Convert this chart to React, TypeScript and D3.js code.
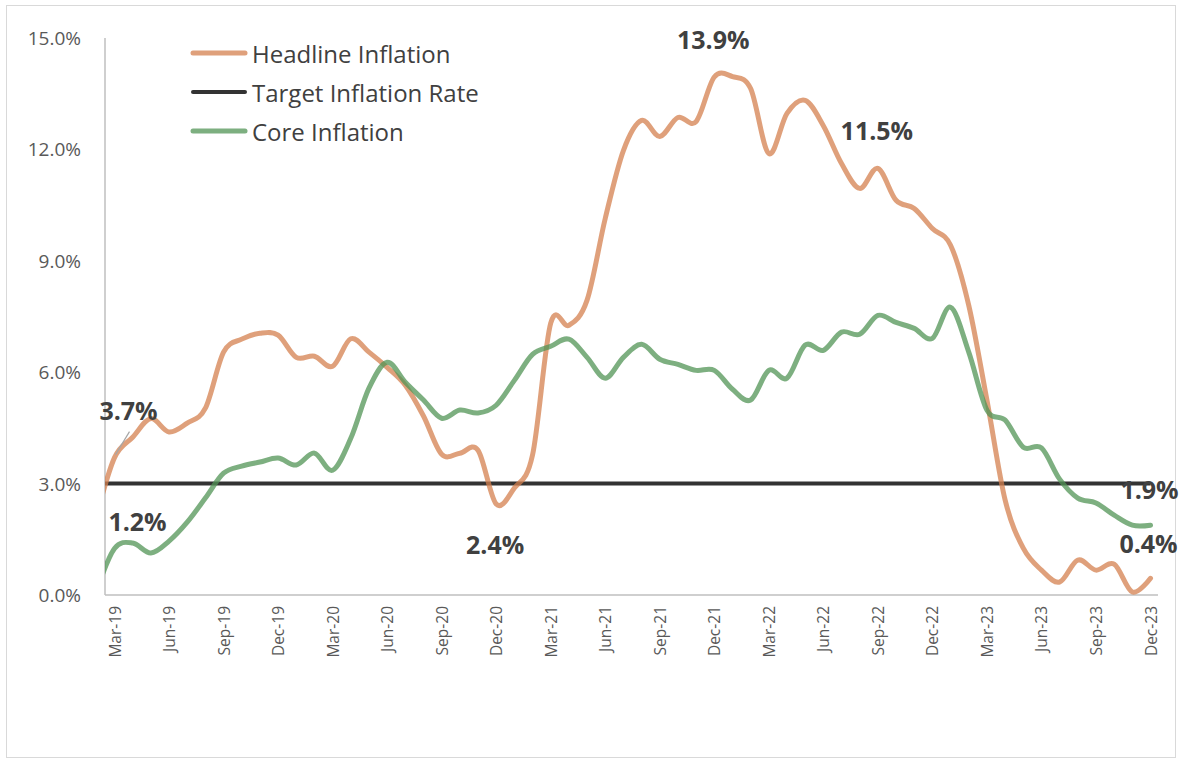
import React from "react";
import * as d3 from "d3";

// Categories: monthly, Feb-19 (clipped at the axis) .. Dec-23
const months: string[] = d3
  .timeMonth.range(new Date(2019, 1, 1), new Date(2024, 0, 1))
  .map(d3.timeFormat("%b-%y"));

// Headline inflation, % y/y
const headline: number[] = [
  2.1, 3.7, 4.25, 4.75, 4.39, 4.63, 5.03, 6.54, 6.89, 7.05, 7.0,
  6.4, 6.43, 6.16, 6.9, 6.54, 6.13, 5.65, 4.82, 3.79, 3.82, 3.9, 2.45,
  2.88, 3.77, 7.32, 7.26, 7.94, 10.14, 11.97, 12.78, 12.35, 12.86, 12.75, 13.95,
  13.96, 13.64, 11.89, 12.97, 13.32, 12.64, 11.62, 10.95, 11.49, 10.63, 10.41, 9.87,
  9.42, 7.8, 5.25, 2.56, 1.26, 0.67, 0.35, 0.94, 0.67, 0.83, 0.08, 0.45,
];

// Core inflation, % y/y
const core: number[] = [
  0.1, 1.25, 1.4, 1.13, 1.45, 1.96, 2.61, 3.28, 3.47, 3.58, 3.69,
  3.5, 3.82, 3.36, 4.22, 5.57, 6.27, 5.73, 5.25, 4.76, 4.98, 4.9, 5.11,
  5.78, 6.48, 6.7, 6.89, 6.4, 5.84, 6.4, 6.75, 6.35, 6.21, 6.05, 6.05,
  5.54, 5.25, 6.05, 5.84, 6.73, 6.59, 7.08, 7.02, 7.53, 7.34, 7.18, 6.91,
  7.75, 6.54, 4.98, 4.71, 3.98, 3.96, 3.12, 2.61, 2.48, 2.15, 1.88, 1.88,
];

// Target inflation rate, %
const targetRate = 3.0;

const xTickLabels: string[] = [
  "Mar-19", "Jun-19", "Sep-19", "Dec-19", "Mar-20", "Jun-20", "Sep-20", "Dec-20",
  "Mar-21", "Jun-21", "Sep-21", "Dec-21", "Mar-22", "Jun-22", "Sep-22", "Dec-22",
  "Mar-23", "Jun-23", "Sep-23", "Dec-23",
];
const yTicks: number[] = [0, 3, 6, 9, 12, 15];

const seriesNames = ["Headline Inflation", "Target Inflation Rate", "Core Inflation"];

const dataLabels = [
  { series: "headline", month: "Mar-19", text: "3.7%" },
  { series: "core", month: "Mar-19", text: "1.2%" },
  { series: "headline", month: "Dec-20", text: "2.4%" },
  { series: "headline", month: "Dec-21", text: "13.9%" },
  { series: "headline", month: "Sep-22", text: "11.5%" },
  { series: "core", month: "Dec-23", text: "1.9%" },
  { series: "headline", month: "Dec-23", text: "0.4%" },
];

const ORANGE = "#D4804F";
const GREEN = "#529456";
const BLACK = "#333333";
const TEXT = "#404040";
const AXIS_TEXT = "#595959";
const FONT = "'Open Sans', 'DejaVu Sans', sans-serif";

export default function App() {
  const W = 1180;
  const H = 762;
  const plotLeft = 105;
  const plotRight = 1158;
  const plotTop = 38;
  const plotBottom = 595;

  const x = d3
    .scaleLinear()
    .domain([months.indexOf("Mar-19"), months.indexOf("Dec-23")])
    .range([114.5, 1150.5]);
  const y = d3.scaleLinear().domain([0, 15]).range([plotBottom, plotTop]);

  const line = d3
    .line<number>()
    .x((_, i) => x(i))
    .y((d) => y(d))
    .curve(d3.curveCardinal.tension(0));

  const targetSeries = months.map(() => targetRate);
  const series: Record<string, number[]> = { headline, core };

  const labelOffset: Record<string, [number, number]> = {
    "3.7%": [14, -38],
    "1.2%": [23, -18],
    "2.4%": [-1, 50],
    "13.9%": [-1, -28],
    "11.5%": [-1, -28],
    "1.9%": [-1, -26],
    "0.4%": [-2, -25],
  };

  const legendColors = [ORANGE, BLACK, GREEN];
  const legendOpacity = [0.75, 1, 0.75];

  return (
    <svg
      width={W}
      height={H}
      style={{ position: "absolute", left: 0, top: 0, background: "#fff" }}
      fontFamily={FONT}
    >
      <defs>
        <clipPath id="plotClip">
          <rect x={plotLeft} y={0} width={plotRight - plotLeft + 2} height={plotBottom + 5} />
        </clipPath>
      </defs>
      <rect x={6.5} y={5.5} width={1169} height={752} fill="#fff" stroke="#d9d9d9" strokeWidth={1} />

      {/* axes */}
      <line x1={plotLeft} x2={plotLeft} y1={plotTop} y2={plotBottom} stroke="#bfbfbf" strokeWidth={1.5} />
      <line x1={plotLeft} x2={plotRight} y1={plotBottom} y2={plotBottom} stroke="#bfbfbf" strokeWidth={1.5} />

      {yTicks.map((t) => (
        <text
          key={t}
          x={81}
          y={y(t)}
          textAnchor="end"
          dominantBaseline="central"
          fontSize={19}
          fill={AXIS_TEXT}
        >
          {t.toFixed(1) + "%"}
        </text>
      ))}

      {xTickLabels.map((lab) => {
        const xi = x(months.indexOf(lab));
        return (
          <text
            key={lab}
            transform={`translate(${xi},${606}) rotate(-90)`}
            textAnchor="end"
            dominantBaseline="central"
            fontSize={15.5}
            fill={AXIS_TEXT}
          >
            {lab}
          </text>
        );
      })}

      {/* lines */}
      <g clipPath="url(#plotClip)">
        <path d={line(targetSeries) || ""} fill="none" stroke={BLACK} strokeWidth={4} />
        <path
          d={line(headline) || ""}
          fill="none"
          stroke={ORANGE}
          strokeOpacity={0.75}
          strokeWidth={5}
          strokeLinejoin="round"
          strokeLinecap="round"
        />
        <path
          d={line(core) || ""}
          fill="none"
          stroke={GREEN}
          strokeOpacity={0.75}
          strokeWidth={5}
          strokeLinejoin="round"
          strokeLinecap="round"
        />
      </g>

      {/* leader line for 3.7% */}
      <line
        x1={x(months.indexOf("Mar-19")) + 1}
        y1={y(headline[months.indexOf("Mar-19")]) - 3}
        x2={x(months.indexOf("Mar-19")) + 15}
        y2={y(headline[months.indexOf("Mar-19")]) - 26}
        stroke="#a6a6a6"
        strokeWidth={1.2}
      />

      {/* data labels */}
      {dataLabels.map((d) => {
        const i = months.indexOf(d.month);
        const v = series[d.series][i];
        const [dx, dy] = labelOffset[d.text];
        return (
          <text
            key={d.text}
            x={x(i) + dx}
            y={y(v) + dy}
            textAnchor="middle"
            fontSize={25}
            fontWeight="bold"
            fill={TEXT}
          >
            {d.text}
          </text>
        );
      })}

      {/* legend */}
      {seriesNames.map((name, k) => {
        const ly = 53 + k * 39;
        return (
          <g key={name}>
            <line
              x1={193}
              x2={245}
              y1={ly}
              y2={ly}
              stroke={legendColors[k]}
              strokeOpacity={legendOpacity[k]}
              strokeWidth={k === 1 ? 4 : 5}
              strokeLinecap="round"
            />
            <text x={252} y={ly} dominantBaseline="central" fontSize={24} fill={TEXT}>
              {name}
            </text>
          </g>
        );
      })}
    </svg>
  );
}
